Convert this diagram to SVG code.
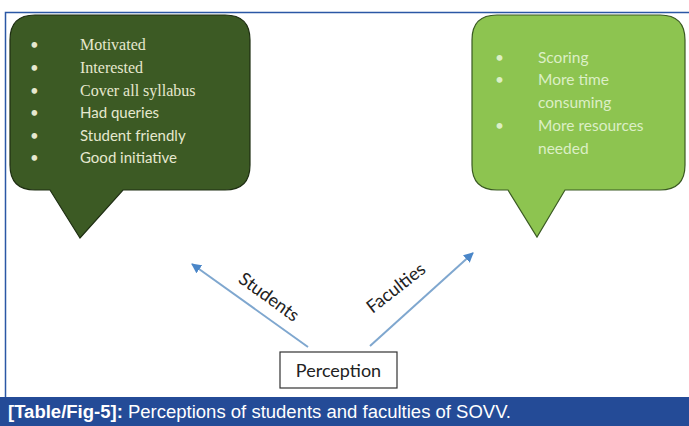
<svg xmlns="http://www.w3.org/2000/svg" width="689" height="426" viewBox="0 0 689 426">
<defs>
<style>
.dk{font-family:"Liberation Serif","Times New Roman",serif;font-size:16px;fill:#e6e8cf}
.dks{font-family:"Lato","Open Sans","Liberation Sans",sans-serif;font-size:15px;fill:#e6e8cf}
.lt{font-family:"Lato","Open Sans","Liberation Sans",sans-serif;font-size:15.5px;fill:#dcefc6}
.lbl{font-family:"Lato","Open Sans","Liberation Sans",sans-serif;font-size:18px;fill:#222}
.conn{stroke:#7fa7cf;stroke-width:2;fill:none}
</style>
<marker id="ah" viewBox="0 0 10 10" refX="9" refY="5" markerWidth="5" markerHeight="5" orient="auto" markerUnits="strokeWidth">
<path d="M0,0 L10,5 L0,10 z" fill="#4a86c8"/>
</marker>
</defs>
<rect width="689" height="426" fill="#fff"/>
<path d="M5.5,398 V12.5 H689" fill="none" stroke="#2b57a5" stroke-width="1.5"/>
<g id="students-bubble">
<path d="M35,15 H225 Q250,15 250,40 V165 Q250,190 225,190 H123 L80,238 L50,190 H35 Q10,190 10,165 V40 Q10,15 35,15 Z" fill="#3c5a24" stroke="#1e2e12" stroke-width="1.2"/>
<g class="dks">
<text x="30" y="50">•</text>
<text x="30" y="73">•</text>
<text x="30" y="96">•</text>
</g>
<g class="dk">
<text x="80" y="50">Motivated</text>
<text x="80" y="73">Interested</text>
<text x="80" y="96">Cover all syllabus</text>
</g>
<g class="dks">
<text x="30" y="118">•</text><text x="80" y="118">Had queries</text>
<text x="30" y="141">•</text><text x="80" y="141">Student friendly</text>
<text x="30" y="163">•</text><text x="80" y="163">Good initiative</text>
</g>
</g>
<g id="faculties-bubble">
<path d="M497,15 H660 Q685,15 685,40 V165 Q685,190 660,190 H565 L537,237 L508,190 H497 Q472,190 472,165 V40 Q472,15 497,15 Z" fill="#8dc450" stroke="#3a5a22" stroke-width="1.2"/>
<g class="lt">
<text x="495" y="63">•</text><text x="538" y="63">Scoring</text>
<text x="495" y="85">•</text><text x="538" y="85">More time</text>
<text x="538" y="108">consuming</text>
<text x="495" y="131">•</text><text x="538" y="131">More resources</text>
<text x="538" y="154">needed</text>
</g>
</g>
<g id="connectors">
<line class="conn" x1="308" y1="347" x2="192" y2="264" marker-end="url(#ah)"/>
<line class="conn" x1="370" y1="346" x2="473" y2="253" marker-end="url(#ah)"/>
<text class="lbl" transform="translate(269,297) rotate(36)" text-anchor="middle" dy="6">Students</text>
<text class="lbl" transform="translate(396,288) rotate(-38)" text-anchor="middle" dy="6">Faculties</text>
</g>
<g id="perception">
<rect x="280" y="352" width="117" height="36" fill="#fff" stroke="#333" stroke-width="1.2"/>
<text class="lbl" x="338.5" y="377" text-anchor="middle">Perception</text>
</g>
<g id="caption">
<rect x="0" y="397" width="689" height="29" fill="#244b97"/>
<text x="8" y="418" font-family="'Liberation Sans',Arial,sans-serif" font-size="18" fill="#fff" textLength="503" lengthAdjust="spacingAndGlyphs"><tspan font-weight="bold">[Table/Fig-5]:</tspan> Perceptions of students and faculties of SOVV.</text>
</g>
</svg>
